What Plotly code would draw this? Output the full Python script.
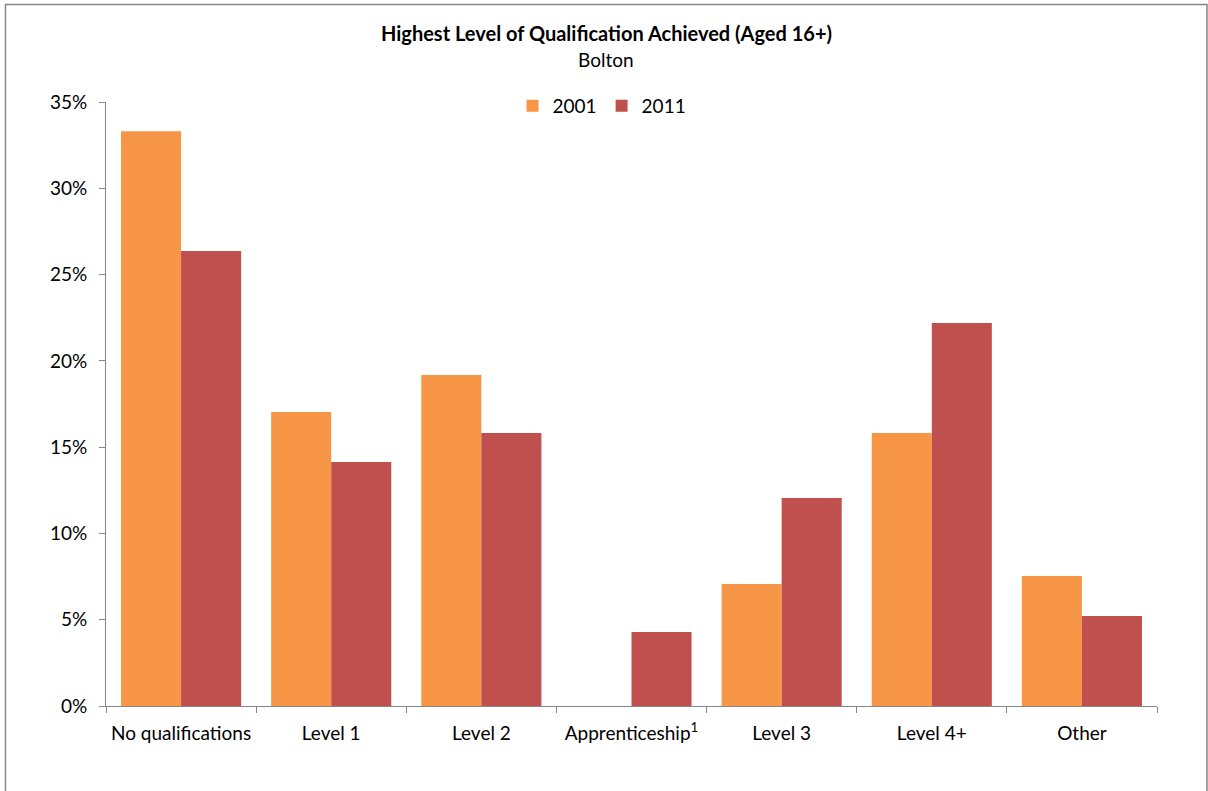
import plotly.graph_objects as go

categories = ["No qualifications", "Level 1", "Level 2", "Apprenticeship<sup>1</sup>", "Level 3", "Level 4+", "Other"]
values_2001 = [33.3, 17.03, 19.18, None, 7.07, 15.82, 7.53]
values_2011 = [26.36, 14.14, 15.82, 4.29, 12.05, 22.19, 5.21]
tick_vals = [0, 5, 10, 15, 20, 25, 30, 35]
tick_text = ["0%", "5%", "10%", "15%", "20%", "25%", "30%", "35%"]

FONT = "Lato, 'Open Sans', sans-serif"

fig = go.Figure()
fig.add_trace(go.Bar(x=categories, y=values_2001, name="2001", marker=dict(color="#F79646", line=dict(width=0))))
fig.add_trace(go.Bar(x=categories, y=values_2011, name="2011", marker=dict(color="#C0504D", line=dict(width=0))))

W, H = 1208, 791
l, r, t, b = 106, 51, 102, 85
pw, ph = W - l - r, H - t - b

def px_x(x):
    return (x - l) / pw

def px_y(y):
    return (H - b - y) / ph

fig.update_layout(
    width=W, height=H,
    autosize=False,
    margin=dict(l=l, r=r, t=t, b=b, autoexpand=False),
    paper_bgcolor="white", plot_bgcolor="white",
    font=dict(family=FONT, size=19, color="#000000"),
    barmode="group", bargap=0.2, bargroupgap=0,
    showlegend=True,
    legend=dict(orientation="h", x=px_x(602), xanchor="center", xref="paper", y=px_y(106), yanchor="middle",
                yref="paper", font=dict(size=19), traceorder="normal", bgcolor="rgba(0,0,0,0)"),
    xaxis=dict(showline=True, linecolor="#868686", linewidth=1, ticks="outside", tickson="boundaries",
               ticklen=6, tickcolor="#868686", showgrid=False, tickfont=dict(size=19), fixedrange=True,
               tickangle=0, automargin=False, ticklabelstandoff=10),
    yaxis=dict(range=[0, 35], tickvals=tick_vals, ticktext=tick_text, showline=True, linecolor="#868686",
               linewidth=1, ticks="outside", ticklen=6, tickcolor="#868686", showgrid=False, zeroline=False,
               tickfont=dict(size=19), fixedrange=True, automargin=False, ticklabelstandoff=8),
    shapes=[dict(type="rect", xref="paper", yref="paper", x0=px_x(5.5), x1=px_x(1207), y0=px_y(4.5), y1=px_y(800),
                 line=dict(color="#868686", width=1.5), fillcolor="rgba(0,0,0,0)", layer="below")],
    annotations=[
        dict(text="<b>Highest Level of Qualification Achieved (Aged 16+)</b>", xref="paper", yref="paper",
             x=px_x(606), y=px_y(33), xanchor="center", yanchor="middle", showarrow=False, font=dict(size=20)),
        dict(text="Bolton", xref="paper", yref="paper", x=px_x(606), y=px_y(60), xanchor="center",
             yanchor="middle", showarrow=False, font=dict(size=19)),
    ],
)

fig.write_html("out.html", config={"displayModeBar": False, "staticPlot": False},
               post_script="document.body.style.margin='0';document.body.style.padding='0';")
